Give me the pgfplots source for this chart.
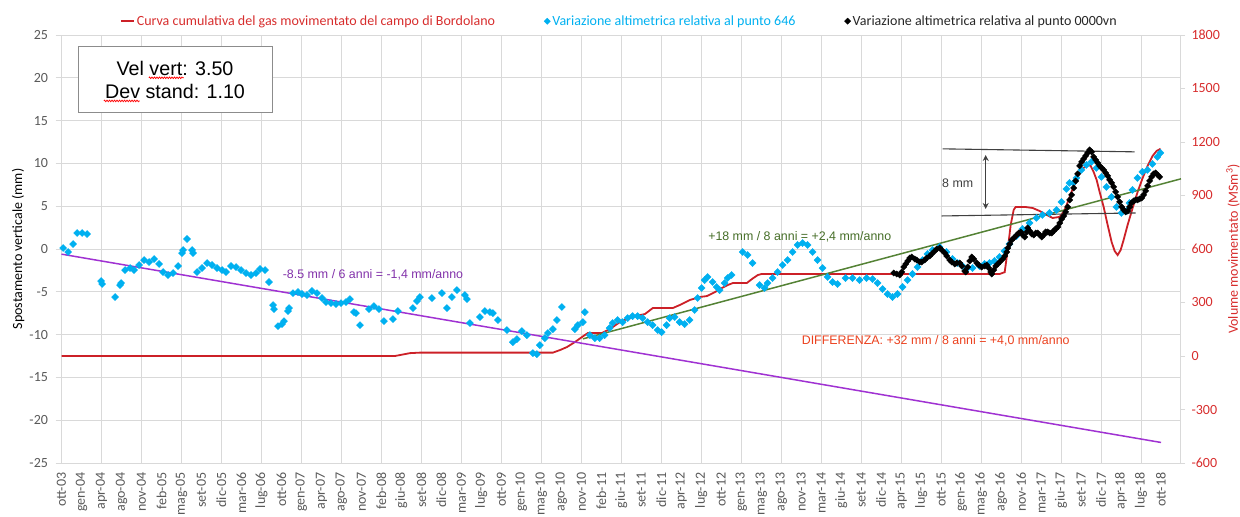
\documentclass[border=0pt]{standalone}
\usepackage{fontspec}
\setmainfont{Carlito}
\newfontfamily\arialf{Liberation Sans}
\usepackage{pgfplots}
\pgfplotsset{compat=1.18}
\usetikzlibrary{arrows.meta,decorations.pathmorphing}

\definecolor{redc}{RGB}{204,32,39}
\definecolor{redt}{RGB}{215,45,45}
\definecolor{blue646}{RGB}{0,176,240}
\definecolor{purplel}{RGB}{160,50,210}
\definecolor{purplet}{RGB}{130,50,170}
\definecolor{greenl}{RGB}{84,130,53}
\definecolor{greent}{RGB}{70,110,40}
\definecolor{orangered}{RGB}{235,65,30}
\definecolor{gridc}{RGB}{217,217,217}
\definecolor{tickc}{RGB}{89,89,89}
\definecolor{annc}{RGB}{64,64,64}

\newcommand\tf{\fontsize{14}{16}\selectfont}
\newcommand\af{\arialf\fontsize{12.4}{14}\selectfont}

\pgfplotstableread{
d mm
8 0.12
33 -0.35
58 0.58
78 1.87
103 1.87
128 1.75
198 -3.74
203 -4.09
268 -5.61
293 -4.21
298 -3.98
318 -2.46
343 -2.22
363 -2.46
388 -1.87
413 -1.29
438 -1.52
463 -1.17
488 -1.75
508 -2.69
533 -3.04
558 -2.81
583 -1.99
603 -0.47
608 -0.12
628 1.17
653 -0.12
658 -0.47
678 -2.69
703 -2.22
728 -1.64
753 -1.87
778 -2.22
803 -2.46
823 -2.69
848 -1.99
873 -2.11
898 -2.46
923 -2.81
948 -3.04
973 -2.81
993 -2.34
1018 -2.46
1038 -3.86
1058 -6.55
1063 -7.02
1083 -9.01
1103 -8.77
1113 -8.42
1133 -7.25
1138 -6.90
1158 -5.15
1183 -5.03
1203 -5.26
1228 -5.38
1253 -4.91
1278 -5.15
1303 -5.73
1323 -6.20
1348 -6.32
1373 -6.43
1398 -6.32
1423 -6.20
1443 -5.85
1463 -7.37
1473 -7.49
1493 -8.89
1538 -7.02
1563 -6.67
1588 -7.02
1613 -8.42
1658 -8.19
1683 -7.25
1758 -6.90
1778 -6.08
1793 -5.61
1853 -5.73
1903 -5.15
1928 -6.90
1953 -5.61
1978 -4.80
2018 -5.38
2028 -5.85
2043 -8.65
2093 -7.95
2118 -7.25
2143 -7.37
2158 -7.49
2183 -8.30
2228 -9.47
2258 -10.88
2278 -10.53
2303 -9.59
2328 -10.06
2358 -12.16
2378 -12.28
2393 -11.23
2418 -10.41
2433 -9.82
2458 -9.36
2478 -8.30
2503 -6.78
2568 -9.36
2583 -8.89
2608 -8.54
2618 -7.37
2643 -10.06
2668 -10.41
2692 -10.41
2717 -10.06
2742 -9.24
2757 -8.65
2782 -8.30
2807 -8.54
2832 -8.07
2857 -7.84
2882 -7.84
2907 -8.07
2932 -8.54
2957 -8.89
2982 -9.47
3002 -9.71
3027 -8.89
3042 -8.07
3067 -7.95
3092 -8.54
3117 -8.77
3142 -8.30
3167 -7.13
3182 -5.73
3202 -4.56
3217 -3.63
3232 -3.27
3257 -3.86
3277 -4.44
3292 -4.80
3317 -3.98
3332 -3.39
3352 -3.04
3407 -0.35
3432 -0.70
3457 -1.64
3492 -4.21
3517 -4.56
3532 -3.98
3557 -3.39
3582 -2.69
3607 -1.87
3632 -1.29
3657 -0.35
3682 0.47
3707 0.70
3732 0.47
3757 -0.35
3782 -1.29
3807 -2.22
3832 -3.27
3857 -3.86
3882 -4.09
3922 -3.39
3957 -3.39
3992 -3.63
4027 -3.39
4057 -3.51
4082 -3.98
4107 -4.68
4132 -5.26
4157 -5.61
4182 -5.26
4207 -4.44
4232 -3.63
4257 -2.92
4282 -2.11
4307 -1.29
4332 -0.58
4357 -0.12
4392 0.23
4427 -0.35
4457 -1.17
4482 -1.64
4507 -1.99
4532 -2.22
4557 -2.22
4592 -1.99
4617 -1.75
4642 -1.64
4667 -1.40
4692 -0.94
4717 -0.23
4742 0.58
4777 1.52
4807 2.34
4842 3.04
4877 3.63
4907 3.98
4942 4.21
4977 4.56
5002 5.50
5027 7.02
5042 7.72
5062 7.72
5077 8.30
5102 9.24
5127 9.82
5152 10.18
5177 9.47
5202 8.42
5227 7.25
5252 6.08
5277 4.91
5302 4.21
5327 4.44
5342 5.38
5357 6.90
5382 8.30
5407 9.01
5432 9.24
5457 9.94
5482 10.76
5497 11.23
}\bluetab

\pgfplotstableread{
d mm
4163 -2.81
4178 -2.92
4193 -3.04
4203 -2.69
4213 -2.11
4223 -1.75
4233 -1.40
4243 -1.05
4253 -0.94
4268 -1.17
4278 -1.29
4293 -1.52
4303 -1.52
4318 -1.29
4328 -1.05
4343 -0.82
4353 -0.58
4368 -0.23
4378 0.00
4393 0.12
4403 -0.12
4418 -0.47
4428 -0.82
4443 -1.29
4453 -1.52
4468 -1.75
4478 -1.64
4493 -1.64
4503 -1.99
4518 -2.57
4523 -2.69
4533 -2.11
4543 -1.40
4553 -0.94
4563 -1.17
4578 -1.64
4588 -1.87
4603 -2.11
4618 -1.99
4628 -1.87
4638 -2.22
4648 -2.69
4653 -2.92
4663 -2.46
4673 -1.99
4683 -1.75
4693 -1.52
4708 -1.17
4718 -0.82
4728 -0.35
4733 0.12
4743 0.58
4753 1.05
4763 1.29
4778 1.64
4788 1.87
4798 1.99
4808 1.64
4818 1.40
4828 1.99
4833 2.46
4843 2.11
4853 1.75
4863 1.64
4873 1.87
4883 1.87
4893 1.64
4903 1.40
4913 1.64
4923 1.99
4933 1.99
4943 1.87
4953 1.87
4963 2.11
4973 2.34
4983 2.57
4993 3.04
5003 3.51
5013 3.86
5023 4.33
5033 4.91
5043 5.73
5053 6.32
5063 7.13
5073 7.95
5083 8.77
5093 9.71
5103 10.18
5113 10.53
5123 10.88
5133 11.23
5143 11.58
5153 11.35
5163 10.76
5173 10.41
5183 10.06
5193 9.71
5203 9.47
5213 9.24
5223 8.89
5233 8.54
5243 8.07
5253 7.72
5263 7.25
5273 6.67
5283 6.08
5293 5.50
5303 4.91
5313 4.56
5323 4.33
5333 4.44
5343 4.91
5353 5.38
5363 5.61
5373 5.73
5383 5.73
5393 5.85
5403 5.96
5413 6.32
5423 6.78
5433 7.37
5443 7.95
5453 8.42
5463 8.77
5473 8.89
5483 8.65
5493 8.42
}\blacktab

\pgfplotstableread{
d vol
0 0
1668 0
1743 16
1793 19
2458 19
2493 33
2528 50
2568 78
2603 106
2633 129
2703 129
2743 151
2793 190
2828 207
2868 224
2918 235
2958 269
3058 269
3093 286
3143 314
3193 331
3228 336
3268 358
3303 381
3333 398
3358 409
3428 409
3453 431
3483 454
3503 460
4693 460
4718 470
4733 594
4748 735
4763 819
4773 836
4818 836
4858 830
4893 813
4928 791
4958 774
4993 780
5013 808
5028 847
5043 892
5058 937
5078 987
5093 1027
5113 1055
5133 1071
5148 1066
5163 1032
5178 987
5193 920
5213 836
5233 735
5253 639
5268 589
5283 566
5298 594
5313 651
5333 735
5358 830
5383 920
5408 998
5433 1066
5458 1122
5478 1150
5498 1162
}\redtab

\pgfplotsset{
  base/.style={scale only axis, width=1118.5pt, height=428pt, xmin=0, xmax=5595},
}

\begin{document}
\begin{tikzpicture}
% background axis: grid, left ticks, x labels
\begin{axis}[base, name=ax,
  ymin=-25, ymax=25,
  ytick={-25,-20,...,25},
  yticklabels={-25,-20,-15,-10,-5,0,5,10,15,20,25},
  ymajorgrids, major grid style={gridc, line width=0.8pt},
  xtick={0,100,...,5500},
  xticklabels={ott-03,gen-04,apr-04,ago-04,nov-04,feb-05,mag-05,set-05,dic-05,mar-06,lug-06,ott-06,gen-07,apr-07,ago-07,nov-07,feb-08,giu-08,set-08,dic-08,mar-09,lug-09,ott-09,gen-10,mag-10,ago-10,nov-10,feb-11,giu-11,set-11,dic-11,apr-12,lug-12,ott-12,gen-13,mag-13,ago-13,nov-13,mar-14,giu-14,set-14,dic-14,apr-15,lug-15,ott-15,gen-16,mag-16,ago-16,nov-16,mar-17,giu-17,set-17,dic-17,apr-18,lug-18,ott-18},
  minor xtick={0,200,...,5400}, xminorgrids, minor grid style={gridc, line width=0.8pt},
  axis line style={gridc, line width=0.8pt},
  tick align=outside,
  major tick length=6pt, minor tick length=0pt,
  ytick style={gridc, line width=0.8pt},
  xtick style={draw=none},
  axis x line*=bottom, axis y line*=left,
  yticklabel style={font=\tf, text=tickc, xshift=-4pt},
  xticklabel style={font=\tf, text=tickc, rotate=90, anchor=east},
  ylabel={Spostamento verticale (mm)},
  every axis y label/.style={at={(axis description cs:0,0.5)}, rotate=90, anchor=south, yshift=37pt, inner sep=0pt, font=\tf, text=black},
]
\addplot[draw=none, forget plot] coordinates {(0,0)};
\end{axis}

% right axis with the red cumulative curve
\begin{axis}[base,
  ymin=-600, ymax=1800,
  axis y line*=right, axis x line=none,
  ytick={-600,-300,...,1800},
  yticklabels={-600,-300,0,300,600,900,1200,1500,1800},
  tick align=outside, major tick length=5pt,
  ytick style={gridc, line width=0.8pt},
  axis line style={gridc, line width=0.8pt},
  yticklabel style={font=\tf, text=redt, xshift=3pt},
  ylabel={Volume movimentato (MSm\textsuperscript{3})},
  every axis y label/.style={at={(axis description cs:1,0.5)}, rotate=90, anchor=north, yshift=-46pt, inner sep=0pt, font=\tf, text=redt},
]
\addplot[redc, line width=1.8pt] table[x=d, y=vol] {\redtab};
\end{axis}

% overlay axis for points, trend lines, annotations and legend
\begin{axis}[base, ymin=-25, ymax=25, hide axis, clip=false,
  legend columns=3,
  legend cell align=left,
  legend style={at={(axis description cs:0.5,1)}, anchor=south, xshift=-1.5pt, yshift=4pt,
    draw=none, fill=none, font=\tf,
    /tikz/every even column/.append style={column sep=47pt}},
]
\addlegendimage{legend image code/.code={\draw[redc, line width=2pt] (0pt,0pt) -- (13pt,0pt);}}
\addlegendentry[text=redt]{Curva cumulativa del gas movimentato del campo di Bordolano}

\addplot[purplel, line width=1.5pt, forget plot] coordinates {(0,-0.6) (5500,-22.6)};
\addplot[greenl, line width=1.5pt, forget plot] coordinates {(2608,-10.5) (5600,8.2)};

\addplot[only marks, mark=square*, mark size=2.5pt, mark options={rotate=45, draw=blue646, fill=blue646},
  legend image code/.code={\draw[mark=square*, mark size=2.2pt, mark options={rotate=45, draw=blue646, fill=blue646}] plot coordinates {(0pt,0pt)};}]
  table[x=d, y=mm] {\bluetab};
\addlegendentry[text=blue646]{Variazione altimetrica relativa al punto 646}

\addplot[only marks, mark=square*, mark size=2.2pt, mark options={rotate=45, draw=black, fill=black},
  legend image code/.code={\draw[mark=square*, mark size=2.2pt, mark options={rotate=45, draw=black, fill=black}] plot coordinates {(0pt,0pt)};}]
  table[x=d, y=mm] {\blacktab};
\addlegendentry[text=black!85]{Variazione altimetrica relativa al punto 0000vn}

\addplot[annc, line width=1.1pt, forget plot] coordinates {(4408,11.70) (5368,11.35)};
\addplot[annc, line width=1.1pt, forget plot] coordinates {(4403,3.86) (5373,4.21)};
\addplot[annc, line width=1.1pt, {Stealth[length=6pt,width=6pt]}-{Stealth[length=6pt,width=6pt]}, forget plot] coordinates {(4623,10.99) (4623,4.68)};

\node[font=\af, text=purplet] at (axis cs:1558,-3.04) {-8.5 mm / 6 anni = -1,4 mm/anno};
\node[font=\af, text=greent] at (axis cs:3693,1.40) {+18 mm / 8 anni = +2,4 mm/anno};
\node[font=\af, text=orangered] at (axis cs:4373,-10.76) {DIFFERENZA: +32 mm / 8 anni = +4,0 mm/anno};
\node[font=\af, text=annc] at (axis cs:4483,7.72) {8 mm};

\node[draw=gray!90, line width=0.8pt, fill=white, minimum width=194pt, minimum height=66pt, inner sep=0pt, align=center,
  font=\arialf\fontsize{19.7}{22.5}\selectfont] at (axis cs:568,19.77) {Vel vert: 3.50\\Dev stand: 1.10};
\draw[red, line width=0.7pt, decorate, decoration={zigzag, amplitude=0.8pt, segment length=2.5pt}] (axis cs:437,20.0) -- (axis cs:612,20.0);
\draw[red, line width=0.7pt, decorate, decoration={zigzag, amplitude=0.8pt, segment length=2.5pt}] (axis cs:212,17.3) -- (axis cs:392,17.3);
\end{axis}

\pgfresetboundingbox
\path ([xshift=-61.5pt,yshift=-53pt]ax.south west) rectangle ([xshift=60pt,yshift=35pt]ax.north east);
\end{tikzpicture}
\end{document}
